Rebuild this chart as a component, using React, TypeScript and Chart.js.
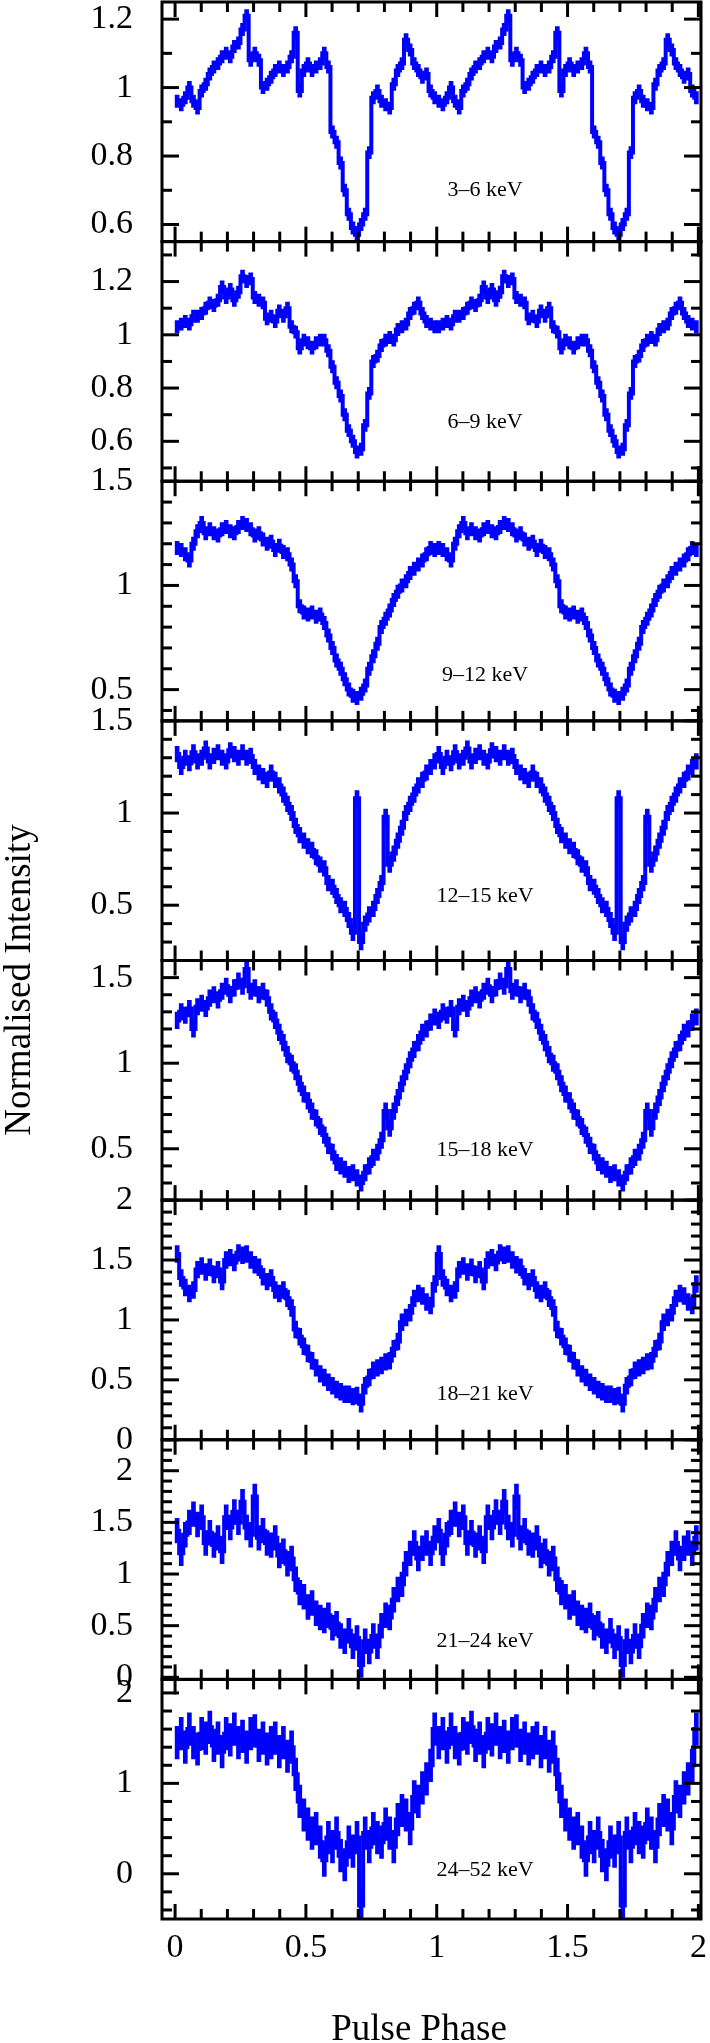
import React, { useEffect, useRef } from 'react';
import { Chart, registerables } from 'chart.js';

Chart.register(...registerables);

// ---------------- data ----------------
const BINS_PER_CYCLE = 64;
const CYCLES = 2;

const ENERGY_LABELS = ['3–6 keV', '6–9 keV', '9–12 keV', '12–15 keV', '15–18 keV', '18–21 keV', '21–24 keV', '24–52 keV'];

const PROFILE_3_6 = [0.96, 0.95, 0.97, 1.00, 0.96, 0.94, 0.99, 1.01, 1.04, 1.06,
  1.07, 1.09, 1.10, 1.09, 1.12, 1.13, 1.17, 1.21, 1.08, 1.10,
  1.08, 1.00, 1.01, 1.03, 1.05, 1.06, 1.05, 1.06, 1.09, 1.16,
  0.99, 1.05, 1.07, 1.05, 1.06, 1.07, 1.10, 1.06, 0.87, 0.84,
  0.78, 0.70, 0.63, 0.59, 0.57, 0.60, 0.63, 0.81, 0.97, 0.99,
  0.96, 0.95, 0.94, 1.01, 1.05, 1.07, 1.14, 1.11, 1.07, 1.05,
  1.03, 1.04, 0.99, 0.97];
const PROFILE_6_9 = [1.03, 1.04, 1.05, 1.04, 1.07, 1.07, 1.08, 1.10, 1.12, 1.11,
  1.13, 1.18, 1.14, 1.17, 1.13, 1.16, 1.22, 1.20, 1.21, 1.14,
  1.13, 1.12, 1.06, 1.07, 1.05, 1.09, 1.07, 1.10, 1.03, 1.01,
  0.95, 0.98, 0.97, 0.95, 0.97, 0.98, 0.98, 0.94, 0.88, 0.82,
  0.77, 0.70, 0.64, 0.60, 0.56, 0.57, 0.66, 0.78, 0.90, 0.92,
  0.96, 0.98, 0.99, 0.98, 1.02, 1.03, 1.04, 1.08, 1.10, 1.12,
  1.08, 1.05, 1.04, 1.03];
const PROFILE_9_12 = [1.18, 1.17, 1.15, 1.12, 1.20, 1.26, 1.30, 1.25, 1.27, 1.25,
  1.24, 1.27, 1.28, 1.26, 1.25, 1.28, 1.30, 1.29, 1.27, 1.24,
  1.25, 1.22, 1.20, 1.21, 1.17, 1.19, 1.16, 1.15, 1.10, 1.02,
  0.90, 0.87, 0.86, 0.87, 0.85, 0.86, 0.82, 0.76, 0.70, 0.64,
  0.60, 0.55, 0.50, 0.47, 0.46, 0.48, 0.52, 0.60, 0.66, 0.72,
  0.80, 0.84, 0.88, 0.93, 0.97, 1.00, 1.02, 1.06, 1.08, 1.10,
  1.12, 1.15, 1.18, 1.17];
const PROFILE_12_15 = [1.32, 1.25, 1.30, 1.27, 1.33, 1.28, 1.30, 1.35, 1.28, 1.31,
  1.33, 1.30, 1.28, 1.34, 1.32, 1.30, 1.33, 1.30, 1.31, 1.25,
  1.22, 1.20, 1.18, 1.22, 1.18, 1.15, 1.10, 1.05, 1.00, 0.93,
  0.88, 0.85, 0.82, 0.80, 0.76, 0.72, 0.70, 0.62, 0.60, 0.55,
  0.50, 0.48, 0.42, 0.35, 1.08, 0.30, 0.40, 0.45, 0.48, 0.55,
  0.62, 0.98, 0.72, 0.78, 0.85, 0.92, 1.00, 1.05, 1.10, 1.15,
  1.18, 1.22, 1.25, 1.28];
const PROFILE_15_18 = [1.25, 1.30, 1.28, 1.32, 1.20, 1.33, 1.35, 1.32, 1.38, 1.40,
  1.37, 1.42, 1.45, 1.40, 1.44, 1.48, 1.45, 1.55, 1.42, 1.44,
  1.40, 1.42, 1.38, 1.30, 1.25, 1.18, 1.12, 1.05, 1.00, 0.95,
  0.88, 0.82, 0.78, 0.72, 0.68, 0.63, 0.58, 0.52, 0.48, 0.42,
  0.40, 0.38, 0.35, 0.36, 0.33, 0.30, 0.36, 0.40, 0.45, 0.48,
  0.55, 0.72, 0.62, 0.72, 0.80, 0.88, 0.95, 1.02, 1.08, 1.12,
  1.18, 1.20, 1.24, 1.27];
const PROFILE_18_21 = [1.55, 1.35, 1.27, 1.22, 1.25, 1.42, 1.45, 1.40, 1.44, 1.38,
  1.42, 1.32, 1.50, 1.52, 1.48, 1.56, 1.54, 1.55, 1.50, 1.46,
  1.44, 1.36, 1.32, 1.35, 1.25, 1.22, 1.25, 1.18, 1.10, 0.92,
  0.86, 0.78, 0.72, 0.66, 0.60, 0.55, 0.52, 0.48, 0.45, 0.42,
  0.40, 0.38, 0.38, 0.36, 0.37, 0.30, 0.45, 0.52, 0.58, 0.60,
  0.62, 0.65, 0.66, 0.76, 0.82, 0.98, 1.02, 1.06, 1.18, 1.22,
  1.20, 1.15, 1.12, 1.30];
const PROFILE_21_24 = [1.42, 1.20, 1.38, 1.50, 1.58, 1.48, 1.55, 1.30, 1.40, 1.28,
  1.35, 1.22, 1.55, 1.45, 1.60, 1.50, 1.70, 1.45, 1.38, 1.75,
  1.35, 1.42, 1.30, 1.28, 1.35, 1.18, 1.22, 1.10, 1.15, 0.95,
  0.82, 0.78, 0.68, 0.72, 0.62, 0.58, 0.55, 0.60, 0.48, 0.52,
  0.40, 0.35, 0.45, 0.30, 0.38, 0.12, 0.35, 0.25, 0.40, 0.30,
  0.50, 0.60, 0.58, 0.75, 0.85, 0.90, 1.10, 1.20, 1.30, 1.15,
  1.25, 1.30, 1.20, 1.35];
const PROFILE_24_52 = [1.45, 1.55, 1.40, 1.60, 1.45, 1.38, 1.55, 1.50, 1.62, 1.42,
  1.50, 1.35, 1.55, 1.48, 1.60, 1.45, 1.52, 1.40, 1.55, 1.58,
  1.42, 1.50, 1.38, 1.45, 1.50, 1.35, 1.45, 1.30, 1.40, 1.10,
  0.80, 0.65, 0.55, 0.45, 0.50, 0.35, 0.15, 0.40, 0.30, 0.45,
  0.20, 0.10, 0.35, 0.25, 0.40, -0.35, 0.45, 0.30, 0.50, 0.40,
  0.35, 0.55, 0.45, 0.30, 0.60, 0.70, 0.65, 0.50, 0.85, 0.80,
  0.95, 1.05, 1.20, 1.60];

const PROFILES = [PROFILE_3_6, PROFILE_6_9, PROFILE_9_12, PROFILE_12_15, PROFILE_15_18, PROFILE_18_21, PROFILE_21_24, PROFILE_24_52];
const ERRORS = [0.018, 0.023, 0.032, 0.042, 0.048, 0.07, 0.12, 0.18];

const Y_MIN = [0.55, 0.45, 0.35, 0.2, 0.2, 0, -0.02, -0.5];
const Y_MAX = [1.25, 1.35, 1.5, 1.5, 1.6, 2, 2.3, 2.15];
const Y_TICK_LABELS = [
  [0.6, 0.8, 1, 1.2],
  [0.6, 0.8, 1, 1.2],
  [0.5, 1, 1.5],
  [0.5, 1, 1.5],
  [0.5, 1, 1.5],
  [0, 0.5, 1, 1.5, 2],
  [0, 0.5, 1, 1.5, 2],
  [0, 1, 2],
];
const Y_MINOR_STEP = [0.1, 0.1, 0.1, 0.1, 0.1, 0.1, 0.1, 0.2];
const X_TICK_LABELS = [0, 0.5, 1, 1.5, 2];
const X_MINOR_STEP = 0.1;
const X_MIN = -0.05;
const X_MAX = 2.01;

// energy-band annotation placement (data coordinates of each panel)
const LABEL_PHASE = 1.185;
const LABEL_VALUE = [0.7, 0.67, 0.57, 0.55, 0.49, 0.38, 0.35, 0.04];

const X_TITLE = 'Pulse Phase';
const Y_TITLE = 'Normalised Intensity';

// ---------------- styles ----------------
const SERIF = '"Liberation Serif", "Times New Roman", serif';
const BLUE = '#0000ff';

const framePlugin = {
  id: 'panelFrames',
  beforeDatasetDraw(chart: any, args: any) {
    const ys = args.meta.yScale;
    const ca = chart.chartArea;
    const ctx = chart.ctx;
    ctx.save();
    ctx.beginPath();
    ctx.rect(ca.left, ys.top, ca.right - ca.left, ys.bottom - ys.top);
    ctx.clip();
  },
  afterDatasetDraw(chart: any) {
    chart.ctx.restore();
  },
  afterDraw(chart: any) {
    const ctx = chart.ctx;
    const xs = chart.scales.x;
    const { left, right, bottom: areaBottom } = chart.chartArea;
    ctx.save();
    ctx.strokeStyle = '#000';
    ctx.lineWidth = 3;
    ctx.lineCap = 'butt';
    const seg = (x1: number, y1: number, x2: number, y2: number) => {
      ctx.beginPath();
      ctx.moveTo(x1, y1);
      ctx.lineTo(x2, y2);
      ctx.stroke();
    };
    for (let p = 0; p < PROFILES.length; p++) {
      const ys = chart.scales['y' + p];
      const top = ys.top;
      const bottom = ys.bottom;
      const step = Y_MINOR_STEP[p];
      for (let k = Math.ceil(Y_MIN[p] / step - 1e-9); k * step <= Y_MAX[p] + 1e-9; k++) {
        const v = k * step;
        const major = Y_TICK_LABELS[p].some((t) => Math.abs(t - v) < 1e-6);
        const len = major ? 17 : 10;
        const py = ys.getPixelForValue(v);
        seg(left, py, left + len, py);
        seg(right, py, right - len, py);
      }
      for (let k = 0; k * X_MINOR_STEP <= 2 + 1e-9; k++) {
        const v = k * X_MINOR_STEP;
        const major = X_TICK_LABELS.some((t) => Math.abs(t - v) < 1e-6);
        const len = major ? 15 : 10;
        const px = xs.getPixelForValue(v);
        seg(px, top, px, top + len);
        seg(px, bottom, px, bottom - len);
      }
      ctx.strokeRect(left, top, right - left, bottom - top);

      ctx.fillStyle = '#000';
      ctx.font = `22px ${SERIF}`;
      ctx.textAlign = 'center';
      ctx.textBaseline = 'middle';
      ctx.fillText(ENERGY_LABELS[p], xs.getPixelForValue(LABEL_PHASE), ys.getPixelForValue(LABEL_VALUE[p]));
    }
    ctx.fillStyle = '#000';
    ctx.font = `37px ${SERIF}`;
    ctx.textAlign = 'center';
    ctx.textBaseline = 'alphabetic';
    ctx.fillText(X_TITLE, 419, areaBottom + 121);

    ctx.save();
    ctx.translate(30, 980);
    ctx.rotate(-Math.PI / 2);
    ctx.fillText(Y_TITLE, 0, 0);
    ctx.restore();
    ctx.restore();
  },
};

export default function App() {
  const ref = useRef<HTMLCanvasElement>(null);

  useEffect(() => {
    const canvas = ref.current;
    if (!canvas) return;

    const scales: any = {
      x: {
        type: 'linear',
        position: 'bottom',
        min: X_MIN,
        max: X_MAX,
        offset: false,
        grid: { display: false, drawTicks: false },
        border: { display: false },
        ticks: {
          autoSkip: false,
          maxRotation: 0,
          minRotation: 0,
          padding: 9,
          includeBounds: false,
          font: { family: SERIF, size: 34 },
          color: '#000',
          callback: (v: any) => String(v),
        },
        afterBuildTicks: (s: any) => {
          s.ticks = X_TICK_LABELS.map((v) => ({ value: v }));
        },
        afterFit: (s: any) => {
          s.height = 124;
          s.paddingLeft = 0;
          s.paddingRight = 0;
          s.paddingTop = 0;
          s.paddingBottom = 0;
        },
      },
    };

    PROFILES.forEach((_, p) => {
      scales['y' + p] = {
        type: 'linear',
        position: 'left',
        stack: 'panels',
        stackWeight: 1,
        weight: PROFILES.length - p,
        min: Y_MIN[p],
        max: Y_MAX[p],
        beginAtZero: false,
        offset: false,
        grid: { display: false, drawTicks: false },
        border: { display: false },
        ticks: {
          autoSkip: false,
          padding: 29,
          includeBounds: false,
          font: { family: SERIF, size: 34 },
          color: '#000',
          callback: (v: any) => String(v),
        },
        afterBuildTicks: (s: any) => {
          s.ticks = Y_TICK_LABELS[p].map((v) => ({ value: v }));
        },
        afterFit: (s: any) => {
          s.width = 162;
          s.paddingLeft = 0;
          s.paddingRight = 0;
          s.paddingTop = 0;
          s.paddingBottom = 0;
        },
      };
    });

    const datasets: any[] = [];
    PROFILES.forEach((prof, p) => {
      const pts: { x: number; y: number }[] = [];
      for (let c = 0; c < CYCLES; c++) {
        for (let i = 0; i < BINS_PER_CYCLE; i++) {
          pts.push({ x: (c * BINS_PER_CYCLE + i + 0.5) / BINS_PER_CYCLE, y: prof[i] });
        }
      }
      datasets.push({
        type: 'line',
        label: ENERGY_LABELS[p],
        data: pts,
        xAxisID: 'x',
        yAxisID: 'y' + p,
        borderColor: BLUE,
        borderWidth: 4,
        pointRadius: 0,
        stepped: 'middle',
        fill: false,
        tension: 0,
        order: 1,
      });
      datasets.push({
        type: 'bar',
        label: ENERGY_LABELS[p] + ' err',
        data: pts.map((pt) => ({ x: pt.x, y: [pt.y - ERRORS[p], pt.y + ERRORS[p]] })),
        xAxisID: 'x',
        yAxisID: 'y' + p,
        backgroundColor: BLUE,
        borderWidth: 0,
        barThickness: 4,
        grouped: false,
        order: 2,
      });
    });

    const chart = new Chart(canvas, {
      type: 'line',
      data: { datasets },
      options: {
        animation: false,
        responsive: false,
        devicePixelRatio: 1,
        events: [],
        layout: { padding: { left: 0, top: 2, right: 9, bottom: 0 } },
        plugins: {
          legend: { display: false },
          tooltip: { enabled: false },
          title: { display: false },
        },
        scales,
      },
      plugins: [framePlugin],
    } as any);

    return () => chart.destroy();
  }, []);

  return (
    <div style={{ position: 'absolute', left: 0, top: 0, width: 710, height: 2043, background: '#fff' }}>
      <canvas ref={ref} width={710} height={2043} style={{ display: 'block', width: 710, height: 2043 }} />
    </div>
  );
}
